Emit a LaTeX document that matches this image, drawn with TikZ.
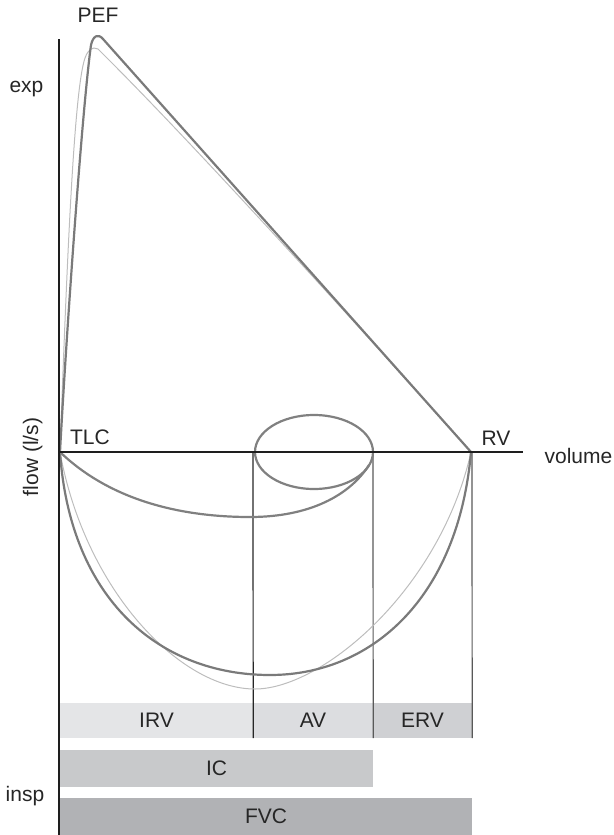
\documentclass[tikz,border=0pt]{standalone}
\usepackage{fontspec}
\setmainfont{Liberation Sans}
\definecolor{curvedark}{HTML}{7A7A7A}
\definecolor{curvelight}{HTML}{BDBDBD}
\definecolor{loopgrey}{HTML}{808080}
\definecolor{axiscol}{HTML}{1E1E1E}
\definecolor{irvcol}{HTML}{E4E5E7}
\definecolor{avcol}{HTML}{DCDDE0}
\definecolor{ervcol}{HTML}{CFD0D3}
\definecolor{iccol}{HTML}{C8C9CB}
\definecolor{fvccol}{HTML}{B1B2B5}
\begin{document}
\begin{tikzpicture}[x=1pt,y=-1pt,font=\fontsize{21}{25}\selectfont,
  darkcurve/.style={draw=curvedark,line width=2.2pt,line join=round},
  lightcurve/.style={draw=curvelight,line width=1pt,line join=round},
  axisline/.style={draw=axiscol,line width=2.4pt},
  vline/.style={line width=1.2pt},
  barbox/.style={inner sep=0pt,minimum height=35pt,anchor=center,text=black!85},
  lbl/.style={inner sep=0pt,text=black!85}]
\useasboundingbox (0,0) rectangle (613,835);
% bars
\node[barbox,fill=irvcol,minimum width=193pt] (irv) at (156.5,720.5) {IRV};
\node[barbox,fill=avcol,minimum width=120pt] (av) at (313,720.5) {AV};
\node[barbox,fill=ervcol,minimum width=99pt] (erv) at (422.5,720.5) {ERV};
\node[barbox,fill=iccol,minimum width=313pt,minimum height=37pt] (ic) at (216.5,768.5) {IC};
\node[barbox,fill=fvccol,minimum width=412pt,minimum height=37pt] (fvc) at (266,816.5) {FVC};
% key points
\coordinate (tlc) at (60,452);
\coordinate (rv) at (471,452);
\coordinate (avtop) at (253,452);
\coordinate (ervtop) at (373,452);
\coordinate (rvtop) at (472,452);
% vertical lines
\draw[vline,draw=black!85] (avtop) -- (irv.south east);
\draw[vline,draw=black!65] (ervtop) -- (av.south east);
\draw[vline,draw=black!65] (rvtop) -- (erv.south east);
% light curves
\draw[lightcurve] (tlc) .. controls (67,260) and (74,90) .. (85,58)
  .. controls (88,50) and (92,46) .. (98,49)
  .. controls (200,150) and (380,350) .. (rv);
\draw[lightcurve] (tlc) .. controls (85,590) and (180,689) .. (255,689)
  .. controls (322,689) and (440,590) .. (rv);
% dark curves
\draw[darkcurve] (tlc) .. controls (66,340) and (82,110) .. (91,45)
  .. controls (93,36) and (98,33) .. (103,39) -- (rv);
\draw[darkcurve] (tlc) .. controls (70,600) and (160,675) .. (270,675)
  .. controls (370,675) and (458,600) .. (rv);
% tidal loop
\draw[darkcurve,draw=loopgrey] (314,452) ellipse [x radius=59,y radius=37];
\draw[darkcurve,draw=loopgrey] (tlc) .. controls (110,500) and (180,517) .. (250,517)
  .. controls (310,517) and (350,495) .. (369,465);
% axes
\draw[axisline] (59,39) -- (59,835);
\draw[axisline] (58,452) -- (523,452);
% labels
\node[lbl] (pef) at (98,15.5) {PEF};
\node[lbl,anchor=base] (exp) at (26.5,92) {exp};
\node[lbl,anchor=base] (insp) at (25,801) {insp};
\node[lbl,rotate=90,anchor=base] (flow) at (38,457) {flow (l/s)};
\node[lbl] (tlcl) at (90,437) {TLC};
\node[lbl] (rvl) at (496,438) {RV};
\node[lbl,anchor=base] (vol) at (578.5,463) {volume};
\end{tikzpicture}
\end{document}
